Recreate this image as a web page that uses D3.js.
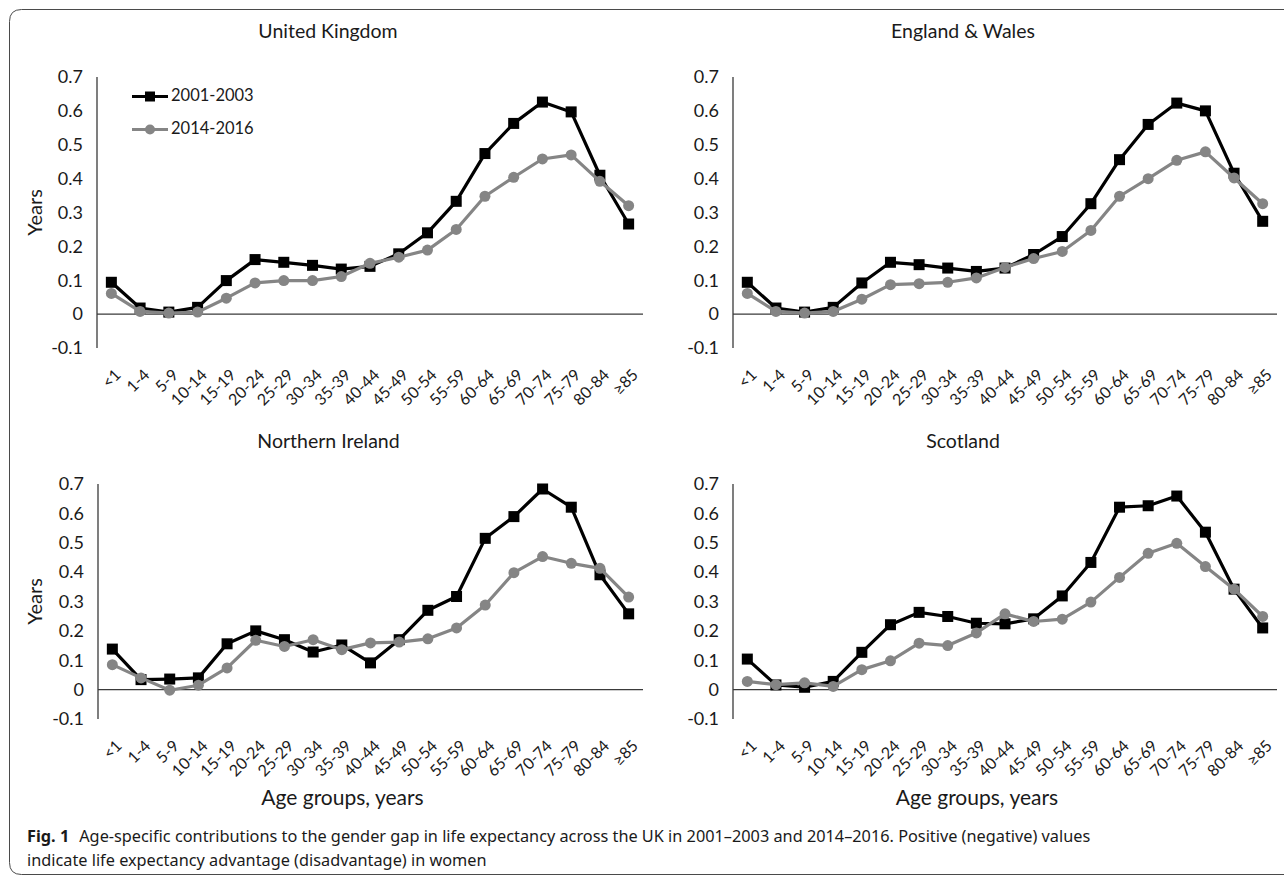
<!DOCTYPE html>
<html>
<head>
<meta charset="utf-8">
<script src="https://cdnjs.cloudflare.com/ajax/libs/d3/7.8.5/d3.min.js"></script>
<style>
  html, body { margin: 0; padding: 0; background: #fff; }
  svg { display: block; }
  text { font-family: Lato, "Open Sans", sans-serif; fill: #1a1a1a; }
  .caption text { font-family: "Noto Sans", "Open Sans", sans-serif; }
</style>
</head>
<body>
<svg id="chart" width="1284" height="879"></svg>
<script>
// Age groups on the category axis
const ageGroups = ["<1", "1-4", "5-9", "10-14", "15-19", "20-24", "25-29", "30-34", "35-39",
  "40-44", "45-49", "50-54", "55-59", "60-64", "65-69", "70-74", "75-79", "80-84", "≥85"];

const periods = ["2001-2003", "2014-2016"];

// Contributions (years) to the female-male life expectancy gap, by age group
const ukEarly = [0.094, 0.018, 0.006, 0.020, 0.099, 0.161, 0.153, 0.144, 0.133, 0.141,
  0.178, 0.240, 0.333, 0.474, 0.563, 0.626, 0.597, 0.410, 0.266];
const ukLate = [0.061, 0.008, 0.003, 0.006, 0.047, 0.092, 0.099, 0.099, 0.111, 0.150,
  0.168, 0.189, 0.250, 0.348, 0.404, 0.458, 0.470, 0.392, 0.320];

const ewEarly = [0.094, 0.018, 0.006, 0.020, 0.092, 0.153, 0.146, 0.136, 0.126, 0.136,
  0.176, 0.229, 0.326, 0.456, 0.560, 0.623, 0.600, 0.416, 0.274];
const ewLate = [0.061, 0.008, 0.003, 0.008, 0.044, 0.087, 0.090, 0.094, 0.107, 0.138,
  0.164, 0.185, 0.247, 0.348, 0.400, 0.454, 0.479, 0.402, 0.326];

const niEarly = [0.138, 0.034, 0.036, 0.040, 0.156, 0.200, 0.170, 0.128, 0.152, 0.091,
  0.170, 0.270, 0.317, 0.515, 0.589, 0.683, 0.621, 0.391, 0.258];
const niLate = [0.085, 0.040, -0.002, 0.015, 0.074, 0.168, 0.147, 0.170, 0.136, 0.159,
  0.162, 0.173, 0.210, 0.288, 0.398, 0.453, 0.430, 0.413, 0.315];

const scEarly = [0.104, 0.016, 0.008, 0.028, 0.127, 0.221, 0.263, 0.249, 0.226, 0.224,
  0.241, 0.319, 0.433, 0.621, 0.626, 0.659, 0.536, 0.342, 0.210];
const scLate = [0.028, 0.017, 0.023, 0.011, 0.068, 0.098, 0.158, 0.150, 0.193, 0.258,
  0.232, 0.240, 0.298, 0.382, 0.464, 0.498, 0.419, 0.342, 0.249];

const yTicks = [-0.1, 0, 0.1, 0.2, 0.3, 0.4, 0.5, 0.6, 0.7];

const panelTitles = ["United Kingdom", "England & Wales", "Northern Ireland", "Scotland"];
const xAxisTitle = "Age groups, years";
const yAxisTitle = "Years";

// Panel geometry: plot extents in pixels
const panels = [
  { title: panelTitles[0], early: ukEarly, late: ukLate, x0: 97,  x1: 643,  top: 77,  bottom: 348, titleY: 33,  legend: true,  yTitle: true,  xTitle: false },
  { title: panelTitles[1], early: ewEarly, late: ewLate, x0: 733, x1: 1277, top: 77,  bottom: 348, titleY: 33,  legend: false, yTitle: false, xTitle: false },
  { title: panelTitles[2], early: niEarly, late: niLate, x0: 98,  x1: 643,  top: 484, bottom: 719, titleY: 443, legend: false, yTitle: true,  xTitle: true },
  { title: panelTitles[3], early: scEarly, late: scLate, x0: 733, x1: 1277, top: 484, bottom: 719, titleY: 443, legend: false, yTitle: false, xTitle: true }
];

const BLACK = "#000000";
const GREY = "#858585";
const AXIS = "#3a3a3a";

const svg = d3.select("#chart");

// Outer frame with rounded left corners (open on the right)
const r = 12, fTop = 9.5, fLeft = 9.5, fBottom = 874.5;
svg.append("path")
  .attr("d", `M1284,${fTop} H${fLeft + r} Q${fLeft},${fTop} ${fLeft},${fTop + r} V${fBottom - r} Q${fLeft},${fBottom} ${fLeft + r},${fBottom} H1284`)
  .attr("fill", "none").attr("stroke", "#4a4a4a").attr("stroke-width", 1);

const fmt = d => (d === 0 ? "0" : d.toFixed(1));

panels.forEach(p => {
  const g = svg.append("g");
  const x = d3.scalePoint().domain(ageGroups).range([p.x0, p.x1]).padding(0.5);
  const y = d3.scaleLinear().domain([-0.1, 0.7]).range([p.bottom, p.top]);

  // Title
  g.append("text")
    .attr("x", (p.x0 + p.x1) / 2 - 42).attr("y", p.titleY)
    .attr("text-anchor", "middle").attr("dominant-baseline", "middle")
    .style("font-size", "19.5px")
    .text(p.title);

  // Y axis labels
  const yAx = g.append("g")
    .attr("transform", `translate(${p.x0},0)`)
    .call(d3.axisLeft(y).tickValues(yTicks).tickFormat(fmt).tickSize(0).tickPadding(14));
  yAx.select(".domain").remove();
  yAx.selectAll("text").style("font-size", "18px").style("font-family", "Lato, sans-serif").attr("fill", "#1a1a1a");

  // Y axis line
  g.append("line")
    .attr("x1", p.x0).attr("x2", p.x0)
    .attr("y1", y(0.7)).attr("y2", y(-0.1))
    .attr("stroke", AXIS).attr("stroke-width", 1.3);

  // Category labels (rotated) under the plot
  const xAx = g.append("g")
    .attr("transform", `translate(0,${y(-0.1)})`)
    .call(d3.axisBottom(x).tickSize(0).tickPadding(0));
  xAx.select(".domain").remove();
  xAx.selectAll("text")
    .style("font-size", "16px").style("font-family", "Lato, sans-serif").attr("fill", "#1a1a1a")
    .attr("text-anchor", "end")
    .attr("dy", "0.35em")
    .attr("transform", "translate(6,24) rotate(-45)");

  // Zero line
  g.append("line")
    .attr("x1", p.x0).attr("x2", p.x1)
    .attr("y1", y(0)).attr("y2", y(0))
    .attr("stroke", AXIS).attr("stroke-width", 1.3);

  const line = d3.line()
    .x((d, i) => x(ageGroups[i]))
    .y(d => y(d));

  // 2001-2003 series: black line with square markers
  g.append("path").datum(p.early)
    .attr("d", line).attr("fill", "none")
    .attr("stroke", BLACK).attr("stroke-width", 3.2).attr("stroke-linejoin", "round");
  g.selectAll("rect.early").data(p.early).join("rect")
    .attr("class", "early")
    .attr("x", (d, i) => x(ageGroups[i]) - 5.5).attr("y", d => y(d) - 5.5)
    .attr("width", 11).attr("height", 11).attr("fill", BLACK);

  // 2014-2016 series: grey line with round markers
  g.append("path").datum(p.late)
    .attr("d", line).attr("fill", "none")
    .attr("stroke", GREY).attr("stroke-width", 3.2).attr("stroke-linejoin", "round");
  g.selectAll("circle.late").data(p.late).join("circle")
    .attr("class", "late")
    .attr("cx", (d, i) => x(ageGroups[i])).attr("cy", d => y(d))
    .attr("r", 5.5).attr("fill", GREY);

  if (p.yTitle) {
    g.append("text")
      .attr("transform", `translate(42,${(p.top + p.bottom) / 2}) rotate(-90)`)
      .attr("text-anchor", "middle")
      .style("font-size", "20px")
      .text(yAxisTitle);
  }

  if (p.xTitle) {
    g.append("text")
      .attr("x", (p.x0 + p.x1) / 2 - 28).attr("y", 800)
      .attr("text-anchor", "middle").attr("dominant-baseline", "middle")
      .style("font-size", "21px")
      .text(xAxisTitle);
  }

  if (p.legend) {
    const lg = g.append("g");
    const rows = [
      { name: periods[0], color: BLACK, shape: "square", yy: 96.5 },
      { name: periods[1], color: GREY, shape: "circle", yy: 129.5 }
    ];
    rows.forEach(row => {
      lg.append("line")
        .attr("x1", 132).attr("x2", 168).attr("y1", row.yy).attr("y2", row.yy)
        .attr("stroke", row.color).attr("stroke-width", 3);
      if (row.shape === "square") {
        lg.append("rect").attr("x", 145).attr("y", row.yy - 5)
          .attr("width", 10).attr("height", 10).attr("fill", row.color);
      } else {
        lg.append("circle").attr("cx", 150).attr("cy", row.yy).attr("r", 5).attr("fill", row.color);
      }
      lg.append("text")
        .attr("x", 171).attr("y", row.yy)
        .attr("dominant-baseline", "middle")
        .style("font-size", "16.5px")
        .text(row.name);
    });
  }
});

// Figure caption
const cap = svg.append("g").attr("class", "caption");
const line1 = cap.append("text").attr("x", 27).attr("y", 842).style("font-size", "16.3px");
line1.append("tspan").style("font-weight", "bold").text("Fig. 1");
line1.append("tspan").attr("dx", 10)
  .text("Age-specific contributions to the gender gap in life expectancy across the UK in 2001–2003 and 2014–2016. Positive (negative) values");
cap.append("text").attr("x", 27).attr("y", 866).style("font-size", "16.3px")
  .text("indicate life expectancy advantage (disadvantage) in women");
</script>
</body>
</html>
